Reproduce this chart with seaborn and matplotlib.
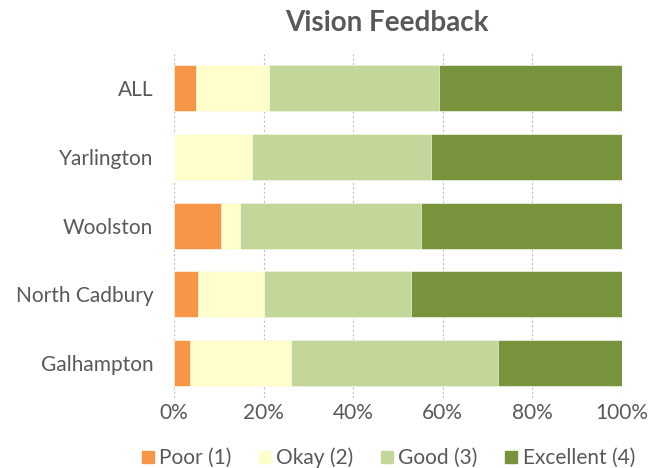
import matplotlib
matplotlib.use("Agg")
import matplotlib.pyplot as plt
import seaborn as sns
import numpy as np
import pandas as pd
from matplotlib.lines import Line2D

categories = ["ALL", "Yarlington", "Woolston", "North Cadbury", "Galhampton"]
series_names = ["Poor (1)", "Okay (2)", "Good (3)", "Excellent (4)"]
poor = [4.9, 0.0, 10.4, 5.3, 3.5]
okay = [16.2, 17.4, 4.4, 14.7, 22.7]
good = [38.1, 40.0, 40.4, 33.0, 46.2]
excellent = [40.8, 42.6, 44.8, 47.0, 27.6]
colors = ["#F79646", "#FFFFCC", "#C4D79B", "#77933C"]
xticks = [0, 20, 40, 60, 80, 100]
xticklabels = ["0%", "20%", "40%", "60%", "80%", "100%"]

sns.set_theme(style="white")
plt.rcParams["font.family"] = ["Lato", "DejaVu Sans"]
txt = "#595959"

vals = np.array([poor, okay, good, excellent])
cum = np.cumsum(vals, axis=0)

fig = plt.figure(figsize=(6.62, 4.68), dpi=100)
ax = fig.add_axes([174/662, 1 - 397.5/468, 448/662, (397.5 - 53.6)/468])

for i in range(3, -1, -1):
    df = pd.DataFrame({"cat": categories, "val": cum[i]})
    sns.barplot(data=df, x="val", y="cat", color=colors[i], width=0.67,
                saturation=1, ax=ax, zorder=2, edgecolor="white", linewidth=0.4)

ax.set_xlim(0, 100)
ax.set_xticks(xticks)
ax.set_xticklabels(xticklabels)
ax.set_xlabel("")
ax.set_ylabel("")
ax.xaxis.grid(True, color="#BFBFBF", linestyle=(0, (2, 2)), linewidth=0.8, zorder=0)
ax.set_axisbelow(True)
for s in ax.spines.values():
    s.set_visible(False)
ax.tick_params(axis="both", length=0, labelsize=15, colors=txt)
ax.tick_params(axis="y", pad=15)
ax.tick_params(axis="x", pad=4)

fig.suptitle("Vision Feedback", x=0.585, y=0.978, fontsize=20, fontweight="bold", color=txt)

handles = [Line2D([], [], marker="s", linestyle="", markersize=9, markerfacecolor=c,
                  markeredgecolor=c) for c in colors]
fig.legend(handles, series_names, loc="lower center", bbox_to_anchor=(0.585, -0.04),
           ncol=4, frameon=False, fontsize=15, labelcolor=txt, handletextpad=0.15,
           columnspacing=1.2, handlelength=0.8)

fig.savefig("out.png", dpi=100)
